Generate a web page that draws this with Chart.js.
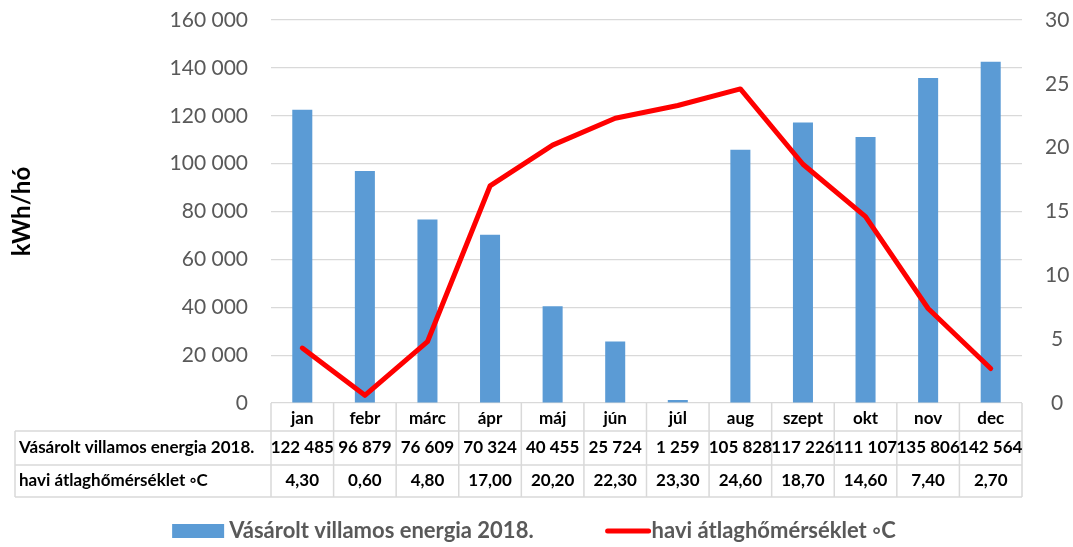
<!DOCTYPE html>
<html>
<head>
<meta charset="utf-8">
<script src="https://cdn.jsdelivr.net/npm/chart.js@4/dist/chart.umd.min.js"></script>
<style>
  body { margin: 0; background: #fff; }
  #wrap { width: 1073px; height: 547px; }
</style>
</head>
<body>
<div id="wrap"><canvas id="chart" width="1073" height="547"></canvas></div>
<script>
// ── Data ──────────────────────────────────────────────────────────────────────
const months      = ['jan','febr','márc','ápr','máj','jún','júl','aug','szept','okt','nov','dec'];
const energyLabel = 'Vásárolt villamos energia 2018.';
const energy      = [122485, 96879, 76609, 70324, 40455, 25724, 1259, 105828, 117226, 111107, 135806, 142564];
const tempLabel   = 'havi átlaghőmérséklet ◦C';
const temps       = [4.30, 0.60, 4.80, 17.00, 20.20, 22.30, 23.30, 24.60, 18.70, 14.60, 7.40, 2.70];
const leftTicks   = [0, 20000, 40000, 60000, 80000, 100000, 120000, 140000, 160000];
const rightTicks  = [0, 5, 10, 15, 20, 25, 30];

const FONT = 'Lato, "Open Sans", sans-serif';
const GREY = '#595959';
const LINE = '#d9d9d9';
const BLUE = '#5b9bd5';
const RED  = '#ff0000';

const fmtThousands = v => String(v).replace(/\B(?=(\d{3})+(?!\d))/g, ' ');
const fmtDec       = v => v.toFixed(2).replace('.', ',');

// ── Data table + legend under the plot ───────────────────────────────────────
const tablePlugin = {
  id: 'dataTable',
  afterDraw(chart) {
    const { ctx, chartArea } = chart;
    const x = chart.scales.x;
    const top  = chartArea.bottom;
    const r1   = top + 28, r2 = top + 62, r3 = top + 94;
    const left = 15;
    const colW = (x.right - x.left) / months.length;

    ctx.save();
    ctx.strokeStyle = LINE;
    ctx.lineWidth = 1.5;
    ctx.beginPath();
    [r1, r2, r3].forEach(y => { ctx.moveTo(left, y); ctx.lineTo(x.right, y); });
    ctx.moveTo(left, r1); ctx.lineTo(left, r3);
    for (let i = 0; i <= months.length; i++) {
      const cx = x.left + i * colW;
      ctx.moveTo(cx, top); ctx.lineTo(cx, r3);
    }
    ctx.stroke();

    ctx.fillStyle = '#000';
    ctx.font = `bold 17px ${FONT}`;
    ctx.textBaseline = 'middle';
    ctx.textAlign = 'left';
    ctx.fillText(energyLabel, left + 4, (r1 + r2) / 2);
    ctx.fillText(tempLabel,   left + 4, (r2 + r3) / 2);

    ctx.textAlign = 'center';
    energy.forEach((v, i) => ctx.fillText(fmtThousands(v), x.getPixelForValue(i), (r1 + r2) / 2));
    temps.forEach((v, i)  => ctx.fillText(fmtDec(v),       x.getPixelForValue(i), (r2 + r3) / 2));

    // legend
    const ly = 531;
    ctx.font = `bold 22px ${FONT}`;
    const w1 = ctx.measureText(energyLabel).width;
    const w2 = ctx.measureText(tempLabel).width;
    const total = 52 + 5 + w1 + 68 + 45 + 3 + w2;
    let lx = 533 - total / 2;
    ctx.fillStyle = BLUE;
    ctx.fillRect(lx, ly - 7, 52, 14);
    lx += 57;
    ctx.fillStyle = GREY;
    ctx.textAlign = 'left';
    ctx.fillText(energyLabel, lx, ly);
    lx += w1 + 72;
    ctx.strokeStyle = RED;
    ctx.lineWidth = 5;
    ctx.lineCap = 'round';
    ctx.beginPath();
    ctx.moveTo(lx + 2, ly); ctx.lineTo(lx + 43, ly);
    ctx.stroke();
    lx += 46;
    ctx.fillText(tempLabel, lx, ly);
    ctx.restore();
  }
};

// y axes: keep tick padding from pushing the plot down
const noVertPad = s => { s.paddingTop = 0; s.paddingBottom = 0; };

new Chart(document.getElementById('chart'), {
  data: {
    labels: months,
    datasets: [
      {
        type: 'bar',
        label: energyLabel,
        data: energy,
        yAxisID: 'y',
        backgroundColor: BLUE,
        barPercentage: 0.32,
        categoryPercentage: 1,
        order: 2,
      },
      {
        type: 'line',
        label: tempLabel,
        data: temps,
        yAxisID: 'y1',
        borderColor: RED,
        backgroundColor: RED,
        borderWidth: 5,
        borderJoinStyle: 'round',
        borderCapStyle: 'round',
        tension: 0,
        pointRadius: 0,
        order: 1,
      }
    ]
  },
  options: {
    responsive: false,
    animation: false,
    layout: { padding: { top: 20, left: 0, right: 0, bottom: 42 } },
    plugins: {
      tooltip: { enabled: false },
      legend: { display: false }
    },
    scales: {
      x: {
        grid: { display: false, drawTicks: false },
        border: { display: false },
        ticks: { color: '#000', padding: 5, font: { family: FONT, size: 17, weight: 'bold' } },
        afterFit: s => { s.height = 102; },
      },
      y: {
        position: 'left',
        min: 0, max: 160000,
        afterBuildTicks: s => { s.ticks = leftTicks.map(v => ({ value: v })); },
        grid: { color: LINE, lineWidth: 1.2, drawTicks: false },
        border: { display: false },
        ticks: { color: GREY, padding: 23, font: { family: FONT, size: 21 }, callback: v => fmtThousands(v) },
        title: { display: true, text: 'kWh/hó', color: '#000', padding: { top: 8 }, font: { family: FONT, size: 24, weight: 'bold' } },
        afterFit: s => { s.width = 271; noVertPad(s); },
      },
      y1: {
        position: 'right',
        min: 0, max: 30,
        afterBuildTicks: s => { s.ticks = rightTicks.map(v => ({ value: v })); },
        grid: { display: false, drawTicks: false },
        border: { display: false },
        ticks: { color: GREY, crossAlign: 'center', padding: 23, font: { family: FONT, size: 21 } },
        afterFit: s => { s.width = 51; noVertPad(s); },
      }
    }
  },
  plugins: [tablePlugin]
});
</script>
</body>
</html>
